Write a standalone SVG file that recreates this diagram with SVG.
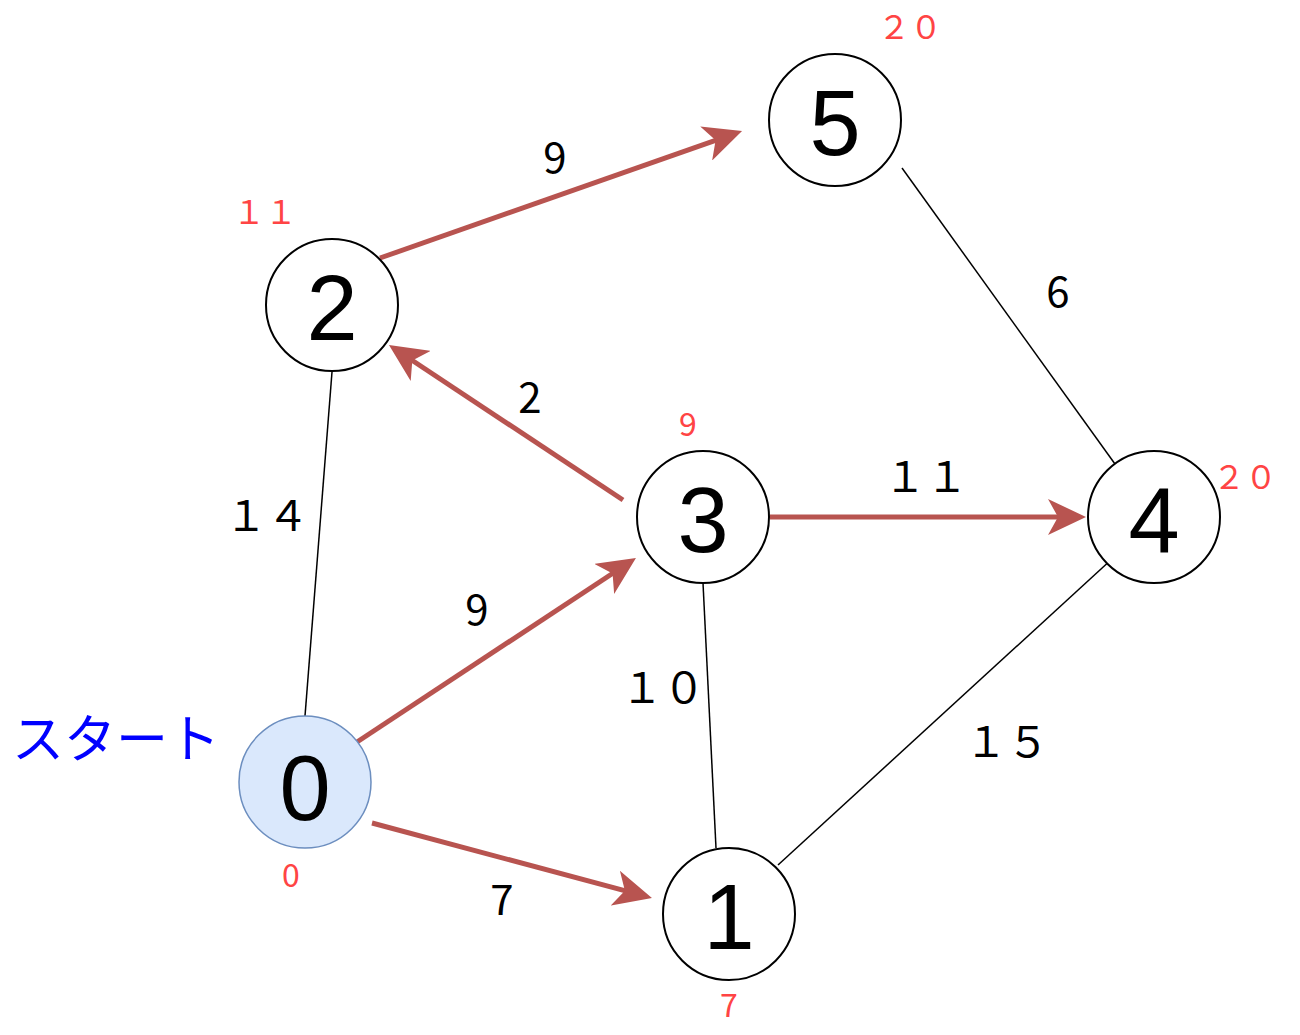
<svg xmlns="http://www.w3.org/2000/svg" width="1300" height="1035" viewBox="0 0 1300 1035">
<style>
.node{fill:#ffffff;stroke:#000000;stroke-width:2}
.start{fill:#dae8fc;stroke:#6c8ebf;stroke-width:1.5}
.nl{font-family:"Liberation Sans",Arial,sans-serif;font-size:92px;fill:#000;text-anchor:middle}
.el{font-family:"Noto Sans CJK JP","Liberation Sans",sans-serif;font-size:42px;fill:#000;text-anchor:middle}
.dl{font-family:"Noto Sans CJK JP","Liberation Sans",sans-serif;font-size:32px;fill:#ff4444;text-anchor:middle}
.plain{stroke:#000;stroke-width:1.5;fill:none}
.hot{stroke:#b85450;stroke-width:5;fill:none;marker-end:url(#arr)}
</style>
<defs>
<marker id="arr" markerUnits="userSpaceOnUse" viewBox="0 0 38 36" markerWidth="38" markerHeight="36" refX="28" refY="18" orient="auto">
<path d="M0,0 L38,18 L0,36 L10,18 Z" fill="#b85450"/>
</marker>
</defs>
<rect width="1300" height="1035" fill="#ffffff"/>
<g id="connectors">
<line class="plain" x1="332" y1="372" x2="305" y2="716"/>
<line class="plain" x1="703" y1="583" x2="716" y2="848"/>
<line class="plain" x1="902" y1="168" x2="1115" y2="464"/>
<line class="plain" x1="1113" y1="558" x2="778" y2="865"/>
<line class="hot" x1="357" y1="742" x2="627.6" y2="563.5"/>
<line class="hot" x1="372" y1="823" x2="642.3" y2="895.4"/>
<line class="hot" x1="623" y1="500" x2="397.3" y2="350.5"/>
<line class="hot" x1="380" y1="258" x2="732.6" y2="134.3"/>
<line class="hot" x1="770" y1="517" x2="1076" y2="517"/>
<text class="el" x="555" y="173">9</text>
<text class="el" x="1058" y="307">6</text>
<text class="el" x="530" y="413">2</text>
<text class="el" x="926" y="492">１１</text>
<text class="el" x="267" y="531">１４</text>
<text class="el" x="477" y="625">9</text>
<text class="el" x="663" y="703">１０</text>
<text class="el" x="1007" y="757">１５</text>
<text class="el" x="502" y="915">7</text>
</g>
<g id="node0">
<circle class="start" cx="305" cy="782" r="66"/>
<text class="nl" x="305" y="820">0</text>
<text class="dl" x="291" y="887">0</text>
<text x="116" y="758" font-family="'Noto Sans CJK JP',sans-serif" font-size="52" fill="#0000ff" text-anchor="middle">スタート</text>
</g>
<g id="node1">
<circle class="node" cx="729" cy="914" r="66"/>
<text class="nl" x="729" y="949">1</text>
<text class="dl" x="729" y="1017">7</text>
</g>
<g id="node2">
<circle class="node" cx="332" cy="305" r="66"/>
<text class="nl" x="332" y="340">2</text>
<text class="dl" x="265" y="224">１１</text>
</g>
<g id="node3">
<circle class="node" cx="703" cy="517" r="66"/>
<text class="nl" x="703" y="552">3</text>
<text class="dl" x="688" y="436">9</text>
</g>
<g id="node4">
<circle class="node" cx="1154" cy="517" r="66"/>
<text class="nl" x="1154" y="552">4</text>
<text class="dl" x="1245" y="489">２０</text>
</g>
<g id="node5">
<circle class="node" cx="835" cy="120" r="66"/>
<text class="nl" x="835" y="155">5</text>
<text class="dl" x="910" y="39">２０</text>
</g>
</svg>
